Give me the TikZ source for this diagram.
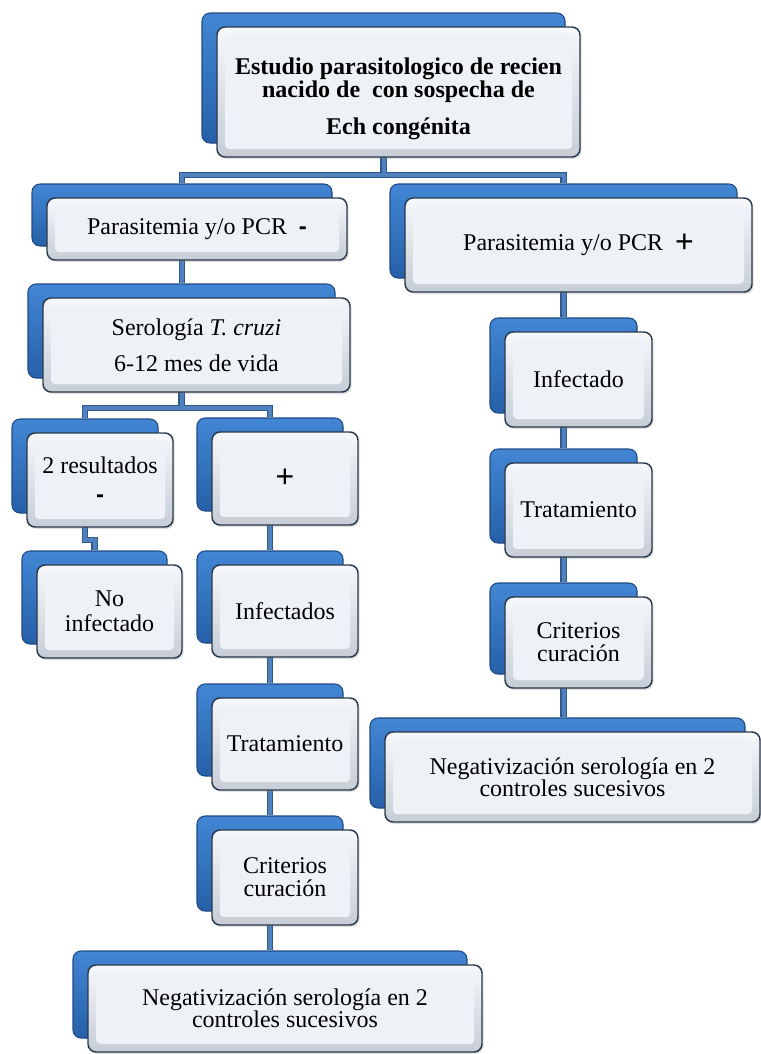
\documentclass[tikz,border=0pt]{standalone}
\usepackage{fontspec}
\setmainfont{Liberation Serif}
\setsansfont{Liberation Sans}
\usetikzlibrary{shadows,calc}
\definecolor{backtop}{RGB}{66,134,212}
\definecolor{backbot}{RGB}{38,96,168}
\definecolor{backedge}{RGB}{30,74,132}
\definecolor{frontedge}{RGB}{42,56,76}
\definecolor{beveltop}{RGB}{246,248,251}
\definecolor{bevelbot}{RGB}{198,205,214}
\definecolor{facec}{RGB}{238,241,246}
\definecolor{lineblue}{RGB}{79,129,189}
\definecolor{lineedge}{RGB}{48,88,142}
\pgfdeclarelayer{background}
\pgfsetlayers{background,main}
\tikzset{
  backbox/.style={draw=backedge, line width=0.8pt, rounded corners=6pt,
    top color=backtop, bottom color=backbot, inner sep=0pt},
  frontbox/.style={draw=frontedge, line width=1.1pt, rounded corners=6pt,
    top color=beveltop, bottom color=bevelbot, align=center, inner sep=2pt,
    font=\fontsize{18pt}{17.5pt}\selectfont,
    drop shadow={opacity=0.25, shadow xshift=1.2pt, shadow yshift=-1.5pt},
    path picture={\fill[facec, rounded corners=3pt]
      ([shift={(6pt,-6pt)}]path picture bounding box.north west) rectangle
      ([shift={(-6pt,6pt)}]path picture bounding box.south east);}},
  connedge/.style={draw=lineedge, line width=4.6pt},
  conninner/.style={draw=lineblue, line width=3pt},
}
\newcommand\twobox[7][]{%
  \node[backbox, minimum width=#5*0.75pt, minimum height=#6*0.75pt] (#2b) at (#3+#5/2-15,#4+#6/2-14) {};
  \node[frontbox, minimum width=#5*0.75pt, minimum height=#6*0.75pt, #1] (#2) at (#3+#5/2,#4+#6/2) {#7};
}
\newcommand\allconn[1]{%
  \draw[#1] (topb.south) -- (topb.south |- bus1);
  \draw[#1] (l1b.north) |- (r1b.north |- bus1) -- (r1b.north);
  \draw[#1] (l1b.south) -- (l1b.south |- l2b.north);
  \draw[#1] (l2b.south) -- (l2b.south |- bus2);
  \draw[#1] (resb.north) |- (plusb.north |- bus2) -- (plusb.north);
  \draw[#1] (resb.south) |- (noinfb.north |- jog) -- (noinfb.north);
  \draw[#1] (plusb.south) -- (plusb.south |- infb.north);
  \draw[#1] (infb.south) -- (infb.south |- tratb.north);
  \draw[#1] (tratb.south) -- (tratb.south |- critb.north);
  \draw[#1] (critb.south) -- (critb.south |- negb.north);
  \draw[#1] (r1b.south) -- (r1b.south |- rinfb.north);
  \draw[#1] (rinfb.south) -- (rinfb.south |- rtratb.north);
  \draw[#1] (rtratb.south) -- (rtratb.south |- rcritb.north);
  \draw[#1] (rcritb.south) -- (rcritb.south |- rnegb.north);
}
\newcommand\thickdash{{\sffamily\bfseries -}}
\newcommand\bigplus{\raisebox{-1.5pt}{\sffamily\fontsize{24pt}{20pt}\selectfont +}}
\begin{document}
\begin{tikzpicture}[x=0.75pt,y=-0.75pt]
\useasboundingbox (0,0) rectangle (761,1054);
\twobox[font=\fontsize{18pt}{17.3pt}\selectfont\bfseries]{top}{217}{27}{363}{130}{\rule{0pt}{23pt}Estudio parasitologico de recien\\nacido de\ \ con sospecha de\\[10.5pt]Ech congénita}
\twobox{l1}{47}{198}{300}{62}{Parasitemia y/o PCR\ \ \thickdash}
\twobox{r1}{405}{198}{347}{94}{Parasitemia y/o PCR\ \ \bigplus}
\twobox[font=\fontsize{18pt}{27pt}\selectfont]{l2}{43}{298}{307}{94}{Serología \textit{T. cruzi}\\6-12 mes de vida}
\twobox[font=\fontsize{18pt}{21.7pt}\selectfont]{res}{27}{433}{146}{94}{2 resultados\\\thickdash}
\twobox{plus}{212}{432}{146}{93}{\bigplus}
\twobox[font=\fontsize{18pt}{18.7pt}\selectfont]{noinf}{37}{565}{145}{93}{No\\infectado}
\twobox{inf}{212}{565}{146}{92}{Infectados}
\twobox{trat}{212}{698}{146}{92}{Tratamiento}
\twobox[font=\fontsize{18pt}{17.3pt}\selectfont]{crit}{212}{830}{146}{95}{Criterios\\curación}
\twobox[font=\fontsize{18pt}{16.5pt}\selectfont]{neg}{88}{965}{394}{87}{Negativización serología en 2\\controles sucesivos}
\twobox{rinf}{505}{332}{147}{95}{Infectado}
\twobox{rtrat}{505}{463}{147}{94}{Tratamiento}
\twobox[font=\fontsize{18pt}{17.3pt}\selectfont]{rcrit}{505}{597}{147}{91}{Criterios\\curación}
\twobox[font=\fontsize{18pt}{16.5pt}\selectfont]{rneg}{385}{732}{375}{90}{Negativización serología en 2\\controles sucesivos}
\begin{pgfonlayer}{background}
\coordinate (bus1) at (0,175);
\coordinate (bus2) at (0,408);
\coordinate (jog) at (0,540);
\allconn{connedge}
\allconn{conninner}
\end{pgfonlayer}
\end{tikzpicture}
\end{document}
